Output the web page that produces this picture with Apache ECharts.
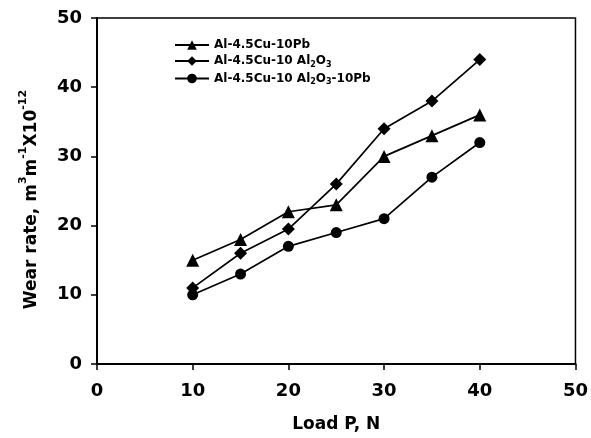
<!DOCTYPE html>
<html><head><meta charset="utf-8">
<script src="https://cdn.jsdelivr.net/npm/echarts@6/dist/echarts.min.js"></script>
<style>html,body{margin:0;padding:0;background:#fff}#c{width:591px;height:438px}</style>
</head><body><div id="c"></div>
<script>
var loads = [10, 15, 20, 25, 30, 35, 40];
var wearPb = [15, 18, 22, 23, 30, 33, 36];
var wearAl2O3 = [11, 16, 19.5, 26, 34, 38, 44];
var wearAl2O3Pb = [10, 13, 17, 19, 21, 27, 32];
var seriesNames = ['Al-4.5Cu-10Pb', 'Al-4.5Cu-10 Al2O3', 'Al-4.5Cu-10 Al2O3-10Pb'];
var xTicks = [0, 10, 20, 30, 40, 50];
var yTicks = [0, 10, 20, 30, 40, 50];

function pairs(xs, ys){ return xs.map(function(x,i){ return [x, ys[i]]; }); }
var F = '"DejaVu Sans", sans-serif';
var chart = echarts.init(document.getElementById('c'));
function mk(name, data, sym, size){
  return {name: name, type: 'line', data: pairs(loads, data), symbol: sym, symbolSize: size,
    itemStyle: {color: '#000'}, lineStyle: {color: '#000', width: 1.7}, showSymbol: true, animation: false};
}
chart.setOption({
  animation: false,
  grid: {left: 97, right: 12, top: 18, bottom: 67, show: true, borderColor: '#000', borderWidth: 1.5, backgroundColor: 'transparent'},
  legend: {
    orient: 'vertical', left: 169, top: 34, itemWidth: 34, itemHeight: 12, itemGap: 4,
    data: seriesNames,
    formatter: function(n){
      if (n === seriesNames[0]) return '{n|Al-4.5Cu-10Pb}';
      if (n === seriesNames[1]) return '{n|Al-4.5Cu-10 Al}{s|2}{n|O}{s|3}';
      return '{n|Al-4.5Cu-10 Al}{s|2}{n|O}{s|3}{n|-10Pb}';
    },
    textStyle: {color: '#000', rich: {
      n: {fontFamily: F, fontWeight: 'bold', fontSize: 12, lineHeight: 15, color: '#000'},
      s: {fontFamily: F, fontWeight: 'bold', fontSize: 8, lineHeight: 8, verticalAlign: 'bottom', color: '#000'}
    }}
  },
  xAxis: {
    type: 'value', min: xTicks[0], max: xTicks[xTicks.length-1], interval: 10,
    name: 'Load P, N', nameLocation: 'middle', nameGap: 52,
    nameTextStyle: {fontFamily: F, fontWeight: 'bold', fontSize: 17, color: '#000'},
    axisLine: {show: true, lineStyle: {color: '#000', width: 2}},
    axisTick: {show: true, length: 6, lineStyle: {color: '#000', width: 1.5}},
    axisLabel: {fontFamily: F, fontWeight: 'bold', fontSize: 18, color: '#000', margin: 18},
    splitLine: {show: false}
  },
  yAxis: {
    type: 'value', min: yTicks[0], max: yTicks[yTicks.length-1], interval: 10,
    name: 'Wear rate, m{p|3}m{p|-1}X10{p|-12}', nameLocation: 'middle', nameGap: 48,
    nameTextStyle: {fontFamily: F, fontWeight: 'bold', fontSize: 17, lineHeight: 28, color: '#000', padding: [0, 17, 0, 0], rich: {
      p: {fontFamily: F, fontWeight: 'bold', fontSize: 11, lineHeight: 8, verticalAlign: 'top', color: '#000'}
    }},
    axisLine: {show: true, lineStyle: {color: '#000', width: 2}},
    axisTick: {show: true, length: 6, lineStyle: {color: '#000', width: 1.5}},
    axisLabel: {fontFamily: F, fontWeight: 'bold', fontSize: 18, color: '#000', margin: 15},
    splitLine: {show: false}
  },
  series: [
    mk(seriesNames[0], wearPb, 'triangle', 13),
    mk(seriesNames[1], wearAl2O3, 'diamond', 13),
    mk(seriesNames[2], wearAl2O3Pb, 'circle', 11)
  ]
});
</script></body></html>
